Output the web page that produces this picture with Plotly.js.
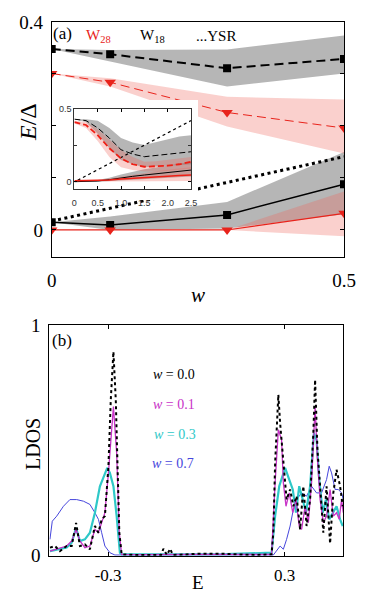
<!DOCTYPE html>
<html>
<head>
<meta charset="utf-8">
<script src="https://cdn.plot.ly/plotly-3.0.1.min.js"></script>
<style>body{margin:0;} #fig{width:381px;height:593px;}</style>
</head>
<body>
<div id="fig"></div>
<script>
// ---- panel (a): bound state energies vs disorder w ----
var wTop = [0, 0.1, 0.3, 0.5];
var w18Hi   = [0.348, 0.338, 0.311, 0.329];
var w18HiUp = [0.348, 0.346, 0.347, 0.374];
var w18HiDn = [0.348, 0.324, 0.276, 0.301];
var w28Hi   = [0.301, 0.284, 0.226, 0.196];
var w28HiUp = [0.301, 0.292, 0.256, 0.251];
var w28HiDn = [0.301, 0.276, 0.199, 0.147];
var w18Lo   = [0.015, 0.0096, 0.029, 0.088];
var w18LoUp = [0.015, 0.026, 0.054, 0.150];
var w18LoDn = [0.015, 0.0, 0.003, 0.030];
var w28Lo   = [0, 0, 0, 0.032];
var w28LoUp = [0, 0, 0, 0.074];
var w28LoDn = [0, 0, 0, -0.012];
var wYsr = [0, 0.5];
var ysr  = [0.017, 0.141];

// inset
var wIn = [0, 0.25, 0.5, 0.75, 1.0, 1.25, 1.5, 1.75, 2.0, 2.25, 2.5];
var in18Hi   = [0.43, 0.42, 0.37, 0.30, 0.22, 0.19, 0.172, 0.18, 0.19, 0.20, 0.206];
var in18HiUp = [0.43, 0.43, 0.42, 0.37, 0.30, 0.27, 0.252, 0.27, 0.29, 0.31, 0.32];
var in18HiDn = [0.43, 0.41, 0.33, 0.23, 0.15, 0.12, 0.10, 0.10, 0.11, 0.115, 0.12];
var in28Hi   = [0.41, 0.39, 0.32, 0.23, 0.16, 0.12, 0.103, 0.105, 0.11, 0.12, 0.137];
var in28HiUp = [0.42, 0.41, 0.36, 0.29, 0.218, 0.17, 0.137, 0.14, 0.15, 0.16, 0.17];
var in28HiDn = [0.40, 0.37, 0.28, 0.17, 0.10, 0.08, 0.07, 0.07, 0.075, 0.08, 0.09];
var in18Lo   = [0, 0, 0.005, 0.014, 0.028, 0.037, 0.046, 0.054, 0.062, 0.071, 0.08];
var in18LoUp = [0, 0.003, 0.012, 0.028, 0.05, 0.07, 0.085, 0.097, 0.11, 0.125, 0.137];
var in18LoDn = [0, 0, 0, 0, 0.005, 0.01, 0.015, 0.02, 0.025, 0.03, 0.035];
var in28Lo   = [0.007, 0.007, 0.007, 0.012, 0.018, 0.024, 0.03, 0.034, 0.038, 0.042, 0.046];
var in28LoUp = [0.007, 0.008, 0.012, 0.022, 0.035, 0.05, 0.062, 0.072, 0.082, 0.09, 0.10];
var in28LoDn = [0.007, 0.005, 0.003, 0.002, 0.002, 0.002, 0.002, 0.002, 0.003, 0.004, 0.005];
var wInYsr = [0.07, 2.5];
var inYsr  = [0.01, 0.42];

// ---- panel (b): LDOS vs E ----
var e00 = [-0.498,-0.481,-0.464,-0.441,-0.424,-0.409,-0.396,-0.379,-0.362,-0.345,-0.333,-0.322,-0.311,-0.299,-0.291,-0.282,-0.274,-0.269,-0.262,-0.254,
  -0.2,-0.12,-0.112,-0.10,-0.089,-0.08,0,0.1,0.2,
  0.256,0.262,0.268,0.279,0.285,0.296,0.307,0.319,0.330,0.341,0.353,0.364,0.375,0.387,0.398,0.404,0.412,0.421,0.432,0.443,0.455,0.466,0.477,0.489,0.498];
var ldos00 = [0.032,0.039,0.017,0.039,0.039,0.140,0.039,0.046,0.025,0.126,0.097,0.155,0.169,0.386,0.675,0.884,0.675,0.386,0.097,0.003,
  0,0,0.027,0,0.027,0,0.005,0.005,0,
  0.003,0.10,0.40,0.697,0.574,0.386,0.241,0.285,0.212,0.256,0.111,0.299,0.126,0.241,0.530,0.762,0.458,0.299,0.097,0.299,0.05,0.270,0.371,0.299,0.212];

var e01 = [-0.498,-0.464,-0.441,-0.424,-0.409,-0.396,-0.379,-0.362,-0.345,-0.333,-0.322,-0.311,-0.299,-0.282,-0.271,-0.262,-0.254,-0.2,0,0.2,
  0.256,0.268,0.279,0.290,0.296,0.305,0.316,0.328,0.339,0.350,0.358,0.370,0.381,0.392,0.404,0.412,0.421,0.432,0.443,0.455,0.466,0.477,0.486,0.494,0.500];
var ldos01 = [0.017,0.032,0.039,0.061,0.111,0.061,0.032,0.039,0.111,0.097,0.140,0.184,0.357,0.646,0.444,0.097,0.003,0.002,0.003,0.002,
  0.003,0.314,0.545,0.501,0.314,0.212,0.270,0.184,0.241,0.126,0.111,0.212,0.140,0.314,0.646,0.415,0.241,0.140,0.169,0.285,0.169,0.184,0.155,0.241,0.184];

var e03 = [-0.498,-0.464,-0.441,-0.424,-0.409,-0.396,-0.379,-0.362,-0.345,-0.328,-0.303,-0.294,-0.282,-0.271,-0.260,-0.254,-0.1,0,0.1,
  0.256,0.268,0.282,0.302,0.316,0.328,0.339,0.350,0.362,0.373,0.387,0.400,0.409,0.418,0.430,0.441,0.452,0.464,0.477,0.489,0.498];
var ldos03 = [0.017,0.025,0.033,0.054,0.118,0.061,0.068,0.097,0.184,0.299,0.379,0.357,0.299,0.169,0.010,0.003,0.004,0.006,0.004,
  0.010,0.169,0.299,0.379,0.328,0.285,0.184,0.299,0.241,0.184,0.299,0.530,0.501,0.328,0.184,0.241,0.155,0.184,0.212,0.155,0.126];

var e07 = [-0.498,-0.490,-0.475,-0.452,-0.430,-0.407,-0.384,-0.362,-0.345,-0.333,-0.322,-0.311,-0.294,-0.277,0,
  0.262,0.285,0.296,0.307,0.319,0.330,0.341,0.358,0.375,0.392,0.409,0.426,0.443,0.452,0.460,0.472,0.483,0.494,0.500];
var ldos07 = [0.068,0.147,0.169,0.212,0.241,0.241,0.234,0.220,0.184,0.155,0.097,0.039,0.010,0.0,0.0,
  0.0,0.039,0.025,0.068,0.126,0.198,0.241,0.270,0.256,0.299,0.270,0.270,0.328,0.386,0.357,0.285,0.285,0.270,0.241];

var serif = "Liberation Serif, Times New Roman, serif";
var W = 381, H = 593;
function px(x) { return x / W; }
function py(y) { return 1 - y / H; }

function band(xs, lo, hi, color, xa, ya) {
  return {
    x: xs.concat(xs.slice().reverse()),
    y: hi.concat(lo.slice().reverse()),
    xaxis: xa, yaxis: ya,
    mode: 'lines', fill: 'toself', fillcolor: color,
    line: {width: 0}, hoverinfo: 'skip', showlegend: false
  };
}
function line(xs, ys, color, width, dash, xa, ya, marker) {
  var t = {x: xs, y: ys, xaxis: xa, yaxis: ya, mode: 'lines',
    line: {color: color, width: width, dash: dash}, showlegend: false};
  if (marker) { t.mode = 'lines+markers'; t.marker = marker; }
  return t;
}

var gray = 'rgba(110,110,110,0.5)';
var pink = 'rgba(238,100,90,0.3)';
var red = '#e8231b';
var sq = {symbol: 'square', size: 8, color: 'black'};
var tri = {symbol: 'triangle-down', size: 10, color: red};

var data = [
  band(wTop, w18HiDn, w18HiUp, gray, 'x', 'y'),
  band(wTop, w18LoDn, w18LoUp, gray, 'x', 'y'),
  band(wTop, w28HiDn, w28HiUp, pink, 'x', 'y'),
  band(wTop, w28LoDn, w28LoUp, pink, 'x', 'y'),
  line(wYsr, ysr, 'black', 3, '3px,3.5px', 'x', 'y'),
  line(wTop, w18Hi, 'black', 2, '9px,5px', 'x', 'y', sq),
  line(wTop, w28Hi, red, 1, '9px,5px', 'x', 'y', tri),
  line(wTop, w18Lo, 'black', 1.5, 'solid', 'x', 'y', sq),
  line(wTop, w28Lo, red, 1.2, 'solid', 'x', 'y', tri),
  // white box behind the inset (its own subplot background)
  {x: [0.5], y: [0.5], xaxis: 'x2', yaxis: 'y2', mode: 'markers', marker: {size: 1, color: 'white'}, showlegend: false},
  // inset
  band(wIn, in18HiDn, in18HiUp, gray, 'x3', 'y3'),
  band(wIn, in18LoDn, in18LoUp, gray, 'x3', 'y3'),
  band(wIn, in28HiDn, in28HiUp, pink, 'x3', 'y3'),
  band(wIn, in28LoDn, in28LoUp, pink, 'x3', 'y3'),
  line(wInYsr, inYsr, 'black', 1.2, 'dot', 'x3', 'y3'),
  line(wIn, in18Hi, 'black', 1, '6px,3px', 'x3', 'y3'),
  line(wIn, in28Hi, '#f01e14', 1.8, '6px,3px', 'x3', 'y3'),
  line(wIn, in18Lo, 'black', 1, 'solid', 'x3', 'y3'),
  line(wIn, in28Lo, '#f01e14', 1.5, 'solid', 'x3', 'y3'),
  // LDOS
  line(e07, ldos07, '#4646dc', 1, 'solid', 'x4', 'y4'),
  line(e03, ldos03, '#2ec8c8', 2.2, 'solid', 'x4', 'y4'),
  line(e01, ldos01, '#c832c8', 1.3, 'solid', 'x4', 'y4'),
  line(e00, ldos00, 'black', 2, 'dot', 'x4', 'y4')
];

var frame = {showline: true, linecolor: 'black', linewidth: 1, mirror: 'allticks',
  ticks: 'inside', ticklen: 4, tickcolor: 'black', showgrid: false, zeroline: false};
function ax(o) { return Object.assign({}, frame, o); }
var sans = {size: 9, family: 'Liberation Sans, Arial, sans-serif', color: '#333'};

var layout = {
  width: W, height: H,
  margin: {l: 0, r: 0, t: 0, b: 0},
  paper_bgcolor: 'white', plot_bgcolor: 'white',
  showlegend: false,
  font: {family: serif, color: 'black'},
  xaxis: ax({domain: [0.1357, 0.9029], range: [0, 0.5], anchor: 'y',
    tickvals: [0, 0.5], ticktext: ['0', '0.5'], tickfont: {size: 19}, ticklabelstandoff: 6}),
  yaxis: ax({domain: [0.5666, 0.9629], range: [-0.052, 0.4], anchor: 'x',
    tickvals: [0, 0.4], ticktext: ['0', '0.4'], tickfont: {size: 19}, ticklabelstandoff: 4,
    minor: {tickvals: [0.1, 0.2, 0.3], ticks: 'inside', ticklen: 4, tickcolor: 'black', showgrid: false}}),
  xaxis2: {domain: [0.1496, 0.5197], range: [0, 1], anchor: 'y2', visible: false},
  yaxis2: {domain: [0.6627, 0.8314], range: [0, 1], anchor: 'x2', visible: false},
  xaxis3: ax({domain: [0.1952, 0.5013], range: [0, 2.5], anchor: 'y3', linecolor: '#333',
    tickvals: [0, 0.5, 1, 1.5, 2, 2.5], ticktext: ['0', '0.5', '1.0', '1.5', '2.0', '2.5'],
    tickfont: sans, ticklen: 3, ticklabelstandoff: 5}),
  yaxis3: ax({domain: [0.6813, 0.8162], range: [-0.05, 0.5], anchor: 'x3', linecolor: '#333',
    tickvals: [0, 0.5], ticktext: ['0', '0.5'], tickfont: sans, ticklen: 3,
    minor: {tickvals: [0.25], ticks: 'inside', ticklen: 3, tickcolor: '#333', showgrid: false}}),
  xaxis4: ax({domain: [0.1295, 0.9011], range: [-0.5, 0.5], anchor: 'y4',
    tickvals: [-0.3, 0.3], ticktext: ['-0.3', '0.3'], tickfont: {size: 17}, ticklabelstandoff: 4}),
  yaxis4: ax({domain: [0.0629, 0.4519], range: [-0.003, 1], anchor: 'x4',
    tickvals: [0, 1], ticktext: ['0', '1'], tickfont: {size: 19}, ticklabelstandoff: 4}),
  annotations: [
    {text: '(a)', x: px(62), y: py(33), size: 17},
    {text: 'W<sub>28</sub>', x: px(98), y: py(36), size: 15, color: red},
    {text: 'W<sub>18</sub>', x: px(152), y: py(36), size: 15},
    {text: '...YSR', x: px(216), y: py(36), size: 15},
    {text: '<i>E</i>/Δ', x: px(28), y: py(122), size: 24, angle: -90},
    {text: '<i>w</i>', x: px(198), y: py(295), size: 21},
    {text: '(b)', x: px(62), y: py(340), size: 17},
    {text: 'LDOS', x: px(33), y: py(444), size: 20, angle: -90},
    {text: 'E', x: px(198), y: py(582), size: 19},
    {text: '<i>w</i> = 0.0', x: px(174), y: py(374), size: 14},
    {text: '<i>w</i> = 0.1', x: px(174), y: py(404), size: 14, color: '#c832c8'},
    {text: '<i>w</i> = 0.3', x: px(175), y: py(434), size: 14, color: '#2ec8c8'},
    {text: '<i>w</i> = 0.7', x: px(173), y: py(463), size: 14, color: '#4646dc'}
  ].map(function (a) {
    return {text: a.text, x: a.x, y: a.y, xref: 'paper', yref: 'paper', showarrow: false,
      xanchor: 'center', yanchor: 'middle', textangle: a.angle || 0,
      font: {family: serif, size: a.size, color: a.color || 'black'}};
  })
};

Plotly.newPlot('fig', data, layout, {displayModeBar: false, staticPlot: true});
</script>
</body>
</html>
